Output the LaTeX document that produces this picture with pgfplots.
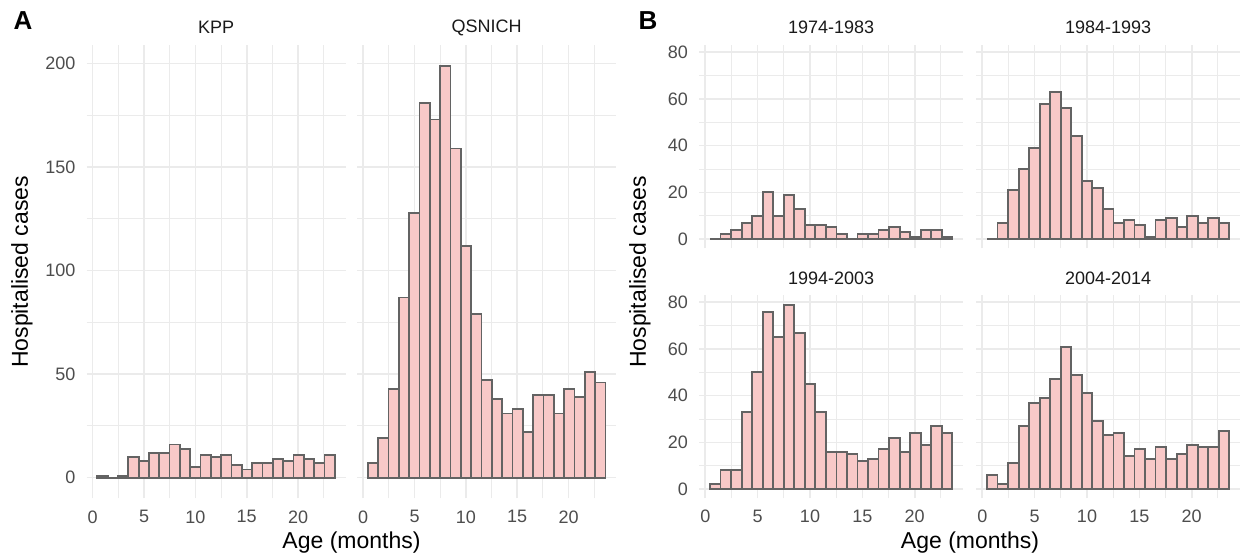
\documentclass[border=0pt]{standalone}
\usepackage{fontspec}
\setmainfont{Liberation Sans}
\usepackage{pgfplots}
\usepackage{pgfplotstable}
\pgfplotsset{compat=1.18}
\definecolor{barfill}{HTML}{F8C9C8}
\definecolor{baredge}{HTML}{636363}
\definecolor{gridmaj}{HTML}{EBEBEB}
\definecolor{ticktxt}{HTML}{4D4D4D}
\definecolor{striptxt}{HTML}{1A1A1A}

\pgfplotstableread{
x      kpp qs  pa pb pc pd
0.450  1   7   0  0  2  6
1.456  0   19  2  7  8  2
2.462  1   43  4  21 8  11
3.468  10  87  7  30 33 27
4.474  8   128 10 39 50 37
5.480  12  181 20 58 76 39
6.486  12  173 10 63 65 47
7.492  16  199 19 56 79 61
8.498  14  159 13 44 67 49
9.504  5   112 6  25 45 41
10.510 11  79  6  22 33 29
11.516 10  47  5  13 16 23
12.522 11  38  2  7  16 24
13.528 6   31  0  8  15 14
14.534 4   33  2  6  12 17
15.540 7   22  2  1  13 13
16.546 7   40  4  8  17 18
17.552 9   40  5  9  22 13
18.558 8   31  3  5  16 15
19.564 11  43  1  10 24 19
20.570 9   39  4  7  19 18
21.576 7   51  4  9  27 18
22.582 11  46  1  7  24 25
23.588 0   0   0  0  0  0
}\data

\pgfplotsset{
  facet/.style={
    scale only axis,
    anchor=south west,
    axis line style={draw=none},
    major tick length=0pt, minor tick length=0pt,
    xmin=-0.6, xmax=24.65,
    xtick={0,5,10,15,20},
    minor xtick={2.5,7.5,12.5,17.5,22.5},
    grid=both,
    major grid style={gridmaj, line width=1.6bp},
    minor grid style={gridmaj, line width=0.9bp},
    tick label style={font=\fontsize{18bp}{21bp}\selectfont, text=ticktxt, inner sep=0pt},
    /pgf/number format/assume math mode=true,
    xticklabel shift=12bp, yticklabel shift=11bp,
  },
  faceta/.style={facet, width=259.3bp, height=453.3bp,
    ymin=-9.95, ymax=208.95, ytick={0,50,100,150,200}, minor ytick={25,75,125,175}},
  facetb/.style={facet, width=264.4bp, height=202.8bp,
    ymin=-3.95, ymax=82.95, ytick={0,20,40,60,80}, minor ytick={10,30,50,70}},
  bars/.style={ybar interval, fill=barfill, draw=baredge, line width=1.8bp, line join=miter},
}

\begin{document}
\begin{tikzpicture}
\path[use as bounding box, fill=white] (0,0) rectangle (1241bp,560bp);

% Panel A
\begin{axis}[faceta, at={(86.5bp,61.7bp)}]
  \addplot[bars] table[x=x, y=kpp] {\data};
\end{axis}
\begin{axis}[faceta, at={(357bp,61.7bp)}, yticklabels={}]
  \addplot[bars] table[x=x, y=qs] {\data};
\end{axis}

% Panel B
\begin{axis}[facetb, at={(699bp,311.8bp)}, xticklabels={}]
  \addplot[bars] table[x=x, y=pa] {\data};
\end{axis}
\begin{axis}[facetb, at={(976bp,311.8bp)}, xticklabels={}, yticklabels={}]
  \addplot[bars] table[x=x, y=pb] {\data};
\end{axis}
\begin{axis}[facetb, at={(699bp,61.8bp)}]
  \addplot[bars] table[x=x, y=pc] {\data};
\end{axis}
\begin{axis}[facetb, at={(976bp,61.8bp)}, yticklabels={}]
  \addplot[bars] table[x=x, y=pd] {\data};
\end{axis}

% strip titles
\begin{scope}[every node/.style={inner sep=0pt, font=\fontsize{18bp}{21bp}\selectfont, text=striptxt}]
  \node at (216.1bp,532.5bp) {KPP};
  \node at (486.6bp,532.5bp) {QSNICH};
  \node at (831.2bp,532.5bp) {1974-1983};
  \node at (1108.2bp,532.5bp) {1984-1993};
  \node at (831.2bp,282bp) {1994-2003};
  \node at (1108.2bp,282bp) {2004-2014};
\end{scope}

% axis titles
\begin{scope}[every node/.style={inner sep=0pt, font=\fontsize{23bp}{27bp}\selectfont, text=black}]
  \node[rotate=90] at (22bp,288bp) {Hospitalised cases};
  \node[rotate=90] at (640bp,288bp) {Hospitalised cases};
  \node at (351.5bp,17bp) {Age (months)};
  \node at (970bp,17bp) {Age (months)};
\end{scope}

% tags
\node[inner sep=0pt, font=\fontsize{26bp}{30bp}\selectfont\bfseries] at (23bp,539.5bp) {A};
\node[inner sep=0pt, font=\fontsize{26bp}{30bp}\selectfont\bfseries] at (648bp,539.5bp) {B};
\end{tikzpicture}
\end{document}
